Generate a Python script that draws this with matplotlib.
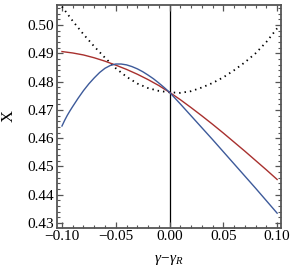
import numpy as np
import matplotlib
matplotlib.use("Agg")
import matplotlib.pyplot as plt
from matplotlib.ticker import MultipleLocator

plt.rcParams["font.family"] = ["Liberation Serif", "DejaVu Serif"]
plt.rcParams["mathtext.fontset"] = "custom"
plt.rcParams["mathtext.rm"] = "Liberation Serif"
plt.rcParams["mathtext.it"] = "Liberation Serif:italic"

# gamma - gamma_R
dgamma = [-0.10, -0.09, -0.08, -0.07, -0.06, -0.05, -0.04, -0.03, -0.02, -0.01,
          0.00, 0.01, 0.02, 0.03, 0.04, 0.05, 0.06, 0.07, 0.08, 0.09, 0.10]

x_red = [0.4906, 0.4901, 0.4894, 0.4884, 0.4872, 0.4858, 0.4843, 0.4826, 0.4807, 0.4786,
         0.4762, 0.4736, 0.4708, 0.4679, 0.4649, 0.4618, 0.4586, 0.4554, 0.4521, 0.4488, 0.4454]

x_dot = [0.5065, 0.5014, 0.4967, 0.4924, 0.4884, 0.4847, 0.4817, 0.4793, 0.4777, 0.4767,
         0.4762, 0.4760, 0.4766, 0.4779, 0.4795, 0.4815, 0.4840, 0.4868, 0.4900, 0.4940, 0.4988]

# blue curve read on a finer grid where it bends
dgamma_blue = [-0.100, -0.0975, -0.095, -0.0925, -0.090, -0.085, -0.080, -0.075, -0.070,
               -0.065, -0.060, -0.055, -0.050, -0.045, -0.040, -0.035, -0.030, -0.025,
               -0.020, -0.015, -0.010, -0.005, 0.00, 0.01, 0.02, 0.03, 0.04, 0.05,
               0.06, 0.07, 0.08, 0.09, 0.10]
x_blue = [0.4643, 0.4663, 0.4681, 0.4697, 0.4712, 0.4741, 0.4768, 0.4792, 0.4813,
          0.4832, 0.4847, 0.4857, 0.4862, 0.4862, 0.4859, 0.4853, 0.4845, 0.4835,
          0.4823, 0.4810, 0.4795, 0.4779, 0.4762, 0.4721, 0.4679, 0.4637, 0.4595, 0.4552,
          0.4509, 0.4466, 0.4423, 0.4379, 0.4335]

fig = plt.figure(figsize=(2.92, 2.70), dpi=100)
ax = fig.add_axes([0.196, 0.157, 0.766, 0.825])

ax.axvline(0, color="black", lw=0.9, zorder=1)
ax.plot(dgamma, x_dot, color="black", lw=1.3, linestyle=(0, (0.8, 2.2)), zorder=2)
ax.plot(dgamma, x_red, color="#a8302e", lw=1.0, zorder=3)
ax.plot(dgamma_blue, x_blue, color="#3d5a9a", lw=1.0, zorder=3)

ax.set_xlim(-0.1044, 0.1035)
ax.set_ylim(0.4284, 0.5071)

ax.xaxis.set_major_locator(MultipleLocator(0.05))
ax.xaxis.set_minor_locator(MultipleLocator(0.01))
ax.yaxis.set_major_locator(MultipleLocator(0.01))
ax.yaxis.set_minor_locator(MultipleLocator(0.002))
ax.xaxis.set_major_formatter(plt.FuncFormatter(lambda v, p: f"{v:.2f}".replace("-", "\u2212")))
ax.yaxis.set_major_formatter(plt.FuncFormatter(lambda v, p: f"{v:.2f}"))

ax.tick_params(which="both", direction="in", top=True, right=True, color="#555555",
               labelsize=11, pad=2)
ax.tick_params(which="major", length=4, width=0.9)
ax.tick_params(which="minor", length=2, width=0.8)
for s in ax.spines.values():
    s.set_color("#555555")
    s.set_linewidth(1.3)

ax.set_xlabel(r"$\gamma\!-\!\gamma_R$", fontsize=11, labelpad=7)
ax.set_ylabel("X", fontsize=12, labelpad=8)

fig.savefig("out.png", dpi=100)
